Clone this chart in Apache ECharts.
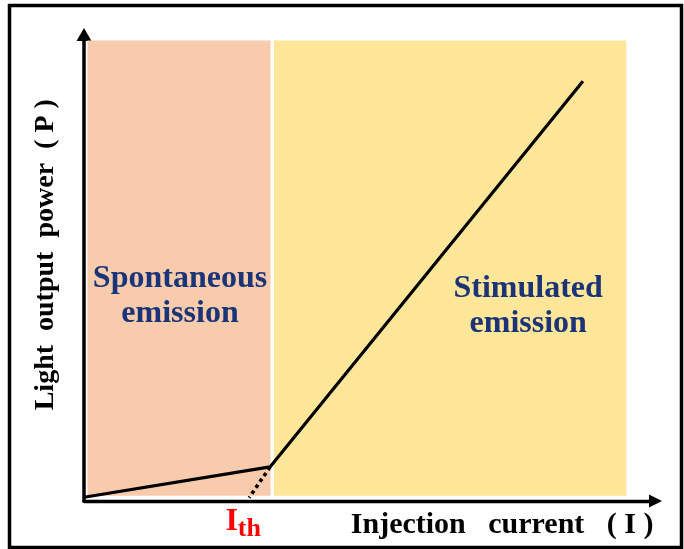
<!DOCTYPE html>
<html>
<head>
<meta charset="utf-8">
<script src="https://cdn.jsdelivr.net/npm/echarts@6/dist/echarts.min.js"></script>
<style>
  html, body { margin: 0; padding: 0; background: #ffffff; }
  #chart { width: 684px; height: 549px; }
</style>
</head>
<body>
<div id="chart"></div>
<script>
// ---- data ----
const regionNames = ['Spontaneous\nemission', 'Stimulated\nemission'];
const regionStartX = [0.6, 33.25];
const regionEndX = [32.65, 94.9];
const regionBottomY = 1.1;
const regionTopY = 98.7;
const regionColors = ['#F8CBAD', '#FFE699'];

const curveX = [0, 32.55, 87.3];
const curveY = [0.8, 7.3, 90];

const extrapX = [32.55, 28.9];
const extrapY = [7.3, 0.7];

const thresholdCurrent = 28.9;
const thresholdLabel = ['I', 'th'];

const xTitle = 'Injection   current   ( I )';
const yTitle = 'Light  output  power  ( P )';

// ---- chart ----
const serif = '"Liberation Serif", "Times New Roman", serif';
const chart = echarts.init(document.getElementById('chart'));

const labelOffsets = [[1, 28], [78, 38]];

const option = {
  animation: false,
  backgroundColor: '#ffffff',
  grid: { left: 84, right: 28.5, top: 34.5, bottom: 48 },
  xAxis: {
    type: 'value', min: 0, max: 100,
    splitLine: { show: false },
    axisTick: { show: false },
    axisLine: {
      show: true, onZero: false,
      symbol: ['none', 'triangle'], symbolSize: [13, 13],
      lineStyle: { color: '#000', width: 3.3 }
    },
    axisLabel: {
      customValues: [thresholdCurrent],
      margin: 5,
      fontFamily: serif, fontWeight: 'bold', fontSize: 31, color: '#FF0000',
      formatter: function () { return '{i|' + thresholdLabel[0] + '}{s|' + thresholdLabel[1] + '}'; },
      rich: {
        i: { fontFamily: serif, fontWeight: 'bold', fontSize: 32, lineHeight: 32, color: '#FF0000' },
        s: { fontFamily: serif, fontWeight: 'bold', fontSize: 26, lineHeight: 26, color: '#FF0000', padding: [15, 12, 0, 0] }
      }
    },
    name: xTitle,
    nameLocation: 'end',
    nameGap: -2,
    nameTextStyle: {
      fontFamily: serif, fontWeight: 'bold', fontSize: 30, color: '#000',
      align: 'right', verticalAlign: 'top', padding: [9, 0, 0, 0]
    }
  },
  yAxis: {
    type: 'value', min: 0, max: 100,
    splitLine: { show: false },
    axisTick: { show: false },
    axisLabel: { show: false },
    axisLine: {
      show: true, onZero: false,
      symbol: ['none', 'triangle'], symbolSize: [15, 13],
      lineStyle: { color: '#000', width: 3.5 }
    },
    name: yTitle,
    nameLocation: 'middle',
    nameGap: 24.4,
    nameRotate: 90,
    nameTextStyle: {
      fontFamily: serif, fontWeight: 'bold', fontSize: 28, color: '#000',
      padding: [0, 0, 0, 26]
    }
  },
  series: [
    {
      type: 'line',
      z: 1,
      data: [],
      markArea: {
        silent: true,
        data: regionNames.map(function (name, i) {
          return [
            {
              name: name,
              xAxis: regionStartX[i], yAxis: regionBottomY,
              itemStyle: { color: regionColors[i], opacity: 1 },
              label: {
                show: true, position: 'inside', offset: labelOffsets[i],
                fontFamily: serif, fontWeight: 'bold', fontSize: 32, lineHeight: 35,
                color: '#1B3478', align: 'center'
              }
            },
            { xAxis: regionEndX[i], yAxis: regionTopY }
          ];
        })
      }
    },
    {
      type: 'line',
      z: 3,
      symbol: 'none',
      lineStyle: { color: '#000', width: 3.2 },
      data: curveX.map(function (x, i) { return [x, curveY[i]]; })
    },
    {
      type: 'line',
      z: 3,
      symbol: 'none',
      lineStyle: { color: '#000', width: 3.6, type: 'dotted' },
      data: extrapX.map(function (x, i) { return [x, extrapY[i]]; })
    }
  ],
  graphic: [
    {
      type: 'rect', z: 100, silent: true,
      shape: { x: 9.5, y: 5.5, width: 672, height: 542 },
      style: { fill: 'none', stroke: '#000', lineWidth: 3.5 }
    }
  ]
};
chart.setOption(option);
</script>
</body>
</html>
